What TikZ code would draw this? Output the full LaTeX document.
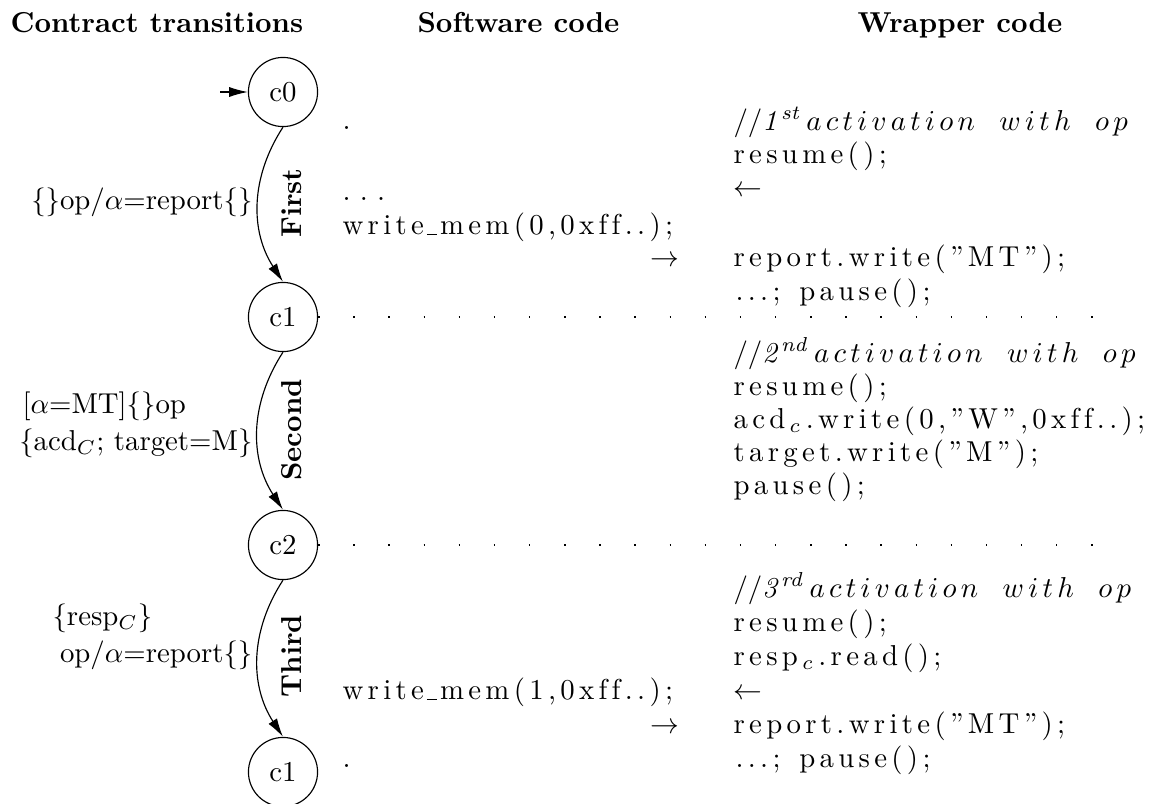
\documentclass[tikz,border=0pt]{standalone}
\usetikzlibrary{arrows.meta}
\makeatletter
\def\ls#1{\ls@x#1\relax}
\def\ls@x#1{\ifx\relax#1\else#1\kern1.5pt\expandafter\ls@x\fi}
\def\lm#1{\lm@x#1\relax}
\def\lm@x#1{\ifx\relax#1\else$#1$\kern1.5pt\expandafter\lm@x\fi}
\makeatother
\newcommand\mycomm[2]{$//\mathit{#1}^{\mathit{#2}}$\kern1.5pt\lm{activation}\hspace{7pt}\lm{with}\hspace{7pt}\lm{op}}
\newcommand\myus{\kern-0.5pt\rule[-0.3pt]{3.6pt}{0.45pt}\kern1pt}
\tikzset{
  state/.style={draw, circle, minimum size=24pt, inner sep=0pt},
  hdr/.style={anchor=base west, inner sep=0pt, font=\bfseries},
  codeL/.style={anchor=base west, inner sep=0pt},
  codeR/.style={anchor=base east, inner sep=0pt},
  lab/.style={anchor=base west, inner sep=0pt},
  labR/.style={anchor=base east, inner sep=0pt},
  tname/.style={rotate=90, font=\bfseries, inner sep=0pt},
  arr/.style={-{Latex[length=6.5pt,width=3.5pt]}},
  sep/.style={dash pattern=on 0.5pt off 11.7pt}
}
\begin{document}
\begin{tikzpicture}[x=0.3472pt, y=-0.3472pt]
\useasboundingbox (0,0) rectangle (1159,803);
% headers
\node[hdr] (h1) at (10,32) {Contract transitions};
\node[hdr] (h2) at (417,32) {Software code};
\node[hdr] (h3) at (857,32) {Wrapper code};
% states
\node[state] (c0) at (283,92) {c0};
\node[state] (c1) at (283,317) {c1};
\node[state] (c2) at (283,545) {c2};
\node[state] (c1b) at (283,772) {c1};
\coordinate (init) at (220,92);
\draw[arr] (init) -- (c0.west);
\draw[arr] (c0.south) to[bend right=33] (c1.north);
\draw[arr] (c1.south) to[bend right=33] (c2.north);
\draw[arr] (c2.south) to[bend right=33] (c1b.north);
% transition names
\node[tname] (t1) at (292,203) {First};
\node[tname] (t2) at (292,430) {Second};
\node[tname] (t3) at (292,656) {Third};
% transition labels
\node[labR] (l1) at (253,209) {\{\}op/$\alpha$=report\{\}};
\node[lab] (l2a) at (22,413) {[$\alpha$=MT]\{\}op};
\node[labR] (l2b) at (253,450) {\{acd$_C$; target=M\}};
\node[lab] (l3a) at (52,625) {\{resp$_C$\}};
\node[labR] (l3b) at (253,662) {op/$\alpha$=report\{\}};
% separators
\coordinate (e1) at (1100,317);
\coordinate (e2) at (1100,545);
\draw[sep] (c1.east) -- (e1);
\draw[sep] (c2.east) -- (e2);
% section 1 software
\node[codeL] (s1a) at (342,129) {.};
\node[codeL] (s1b) at (342,200) {.\hspace{3.2pt}.\hspace{3.2pt}.};
\node[codeL] (s1c) at (342,234) {\ls{write}\myus\ls{mem(0,0xff..);}};
\node[codeR] (s1d) at (680,266) {$\rightarrow$};
% section 1 wrapper
\node[codeL] (w1a) at (733,130) {\mycomm{1}{st}};
\node[codeL] (w1b) at (733,163) {\ls{resume();}};
\node[codeL] (w1c) at (733,196) {$\leftarrow$};
\node[codeL] (w1d) at (733,266) {\ls{report.write(”MT”);}};
\node[codeL] (w1e) at (735,300) {\ls{...;}\hspace{5pt}\ls{pause();}};
% section 2 wrapper
\node[codeL] (w2a) at (733,362) {\mycomm{2}{nd}};
\node[codeL] (w2b) at (733,395) {\ls{resume();}};
\node[codeL] (w2c) at (733,428) {\ls{acd}$_c$\kern1.5pt\ls{.write(0,”W”,0xff..);}};
\node[codeL] (w2d) at (733,461) {\ls{target.write(”M”);}};
\node[codeL] (w2e) at (733,494) {\ls{pause();}};
% section 3 software
\node[codeL] (s3a) at (342,699) {\ls{write}\myus\ls{mem(1,0xff..);}};
\node[codeR] (s3b) at (680,733) {$\rightarrow$};
\node[codeL] (s3c) at (342,767) {.};
% section 3 wrapper
\node[codeL] (w3a) at (733,597) {\mycomm{3}{rd}};
\node[codeL] (w3b) at (733,631) {\ls{resume();}};
\node[codeL] (w3c) at (733,665) {\ls{resp}$_c$\kern1.5pt\ls{.read();}};
\node[codeL] (w3d) at (733,699) {$\leftarrow$};
\node[codeL] (w3e) at (733,733) {\ls{report.write(”MT”);}};
\node[codeL] (w3f) at (735,767) {\ls{...;}\hspace{5pt}\ls{pause();}};
\end{tikzpicture}
\end{document}
